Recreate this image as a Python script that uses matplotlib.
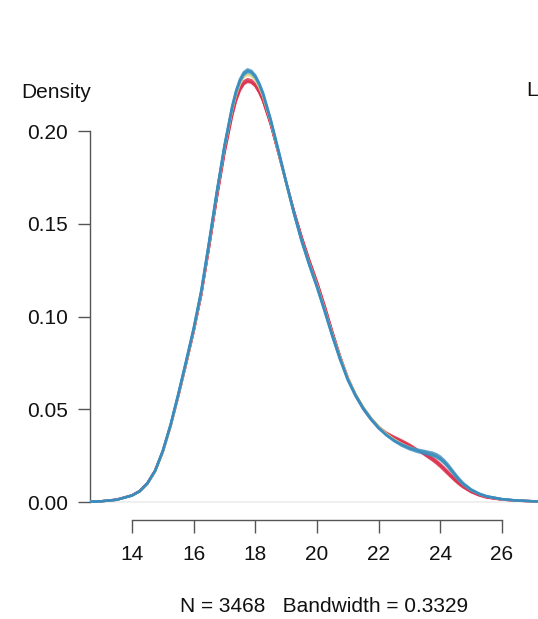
import matplotlib.pyplot as plt

plt.rcParams['font.family'] = ['Liberation Sans', 'DejaVu Sans']

# x grid the densities were read at
xs = [12.6, 13.0, 13.5, 14.0, 14.25, 14.5, 14.75, 15.0, 15.25, 15.5, 15.75, 16.0, 16.25, 16.5,
      16.75, 17.0, 17.25, 17.375, 17.5, 17.625, 17.75, 17.875, 18.0, 18.125, 18.25, 18.5, 18.75,
      19.0, 19.25, 19.5, 19.75, 20.0, 20.25, 20.5, 20.75, 21.0, 21.25, 21.5, 21.75, 22.0, 22.25,
      22.5, 22.75, 23.0, 23.25, 23.5, 23.75, 23.875, 24.0, 24.125, 24.25, 24.375, 24.5, 24.625,
      24.75, 25.0, 25.25, 25.5, 26.0, 26.5, 27.2]

red_lines = [
    [0.0001, 0.0004, 0.0013, 0.0036, 0.0059, 0.0101, 0.0168, 0.0272, 0.0408, 0.0568, 0.0740, 0.0918,
     0.1120, 0.1375, 0.1640, 0.1885, 0.2088, 0.2168, 0.2224, 0.2258, 0.2270, 0.2264, 0.2245, 0.2210,
     0.2163, 0.2035, 0.1880, 0.1722, 0.1568, 0.1428, 0.1302, 0.1185, 0.1055, 0.0915, 0.0783, 0.0668,
     0.0578, 0.0505, 0.0448, 0.0402, 0.0370,
     0.0348, 0.0327, 0.0305, 0.0281, 0.0257, 0.0230, 0.0215, 0.0197, 0.0177, 0.0156, 0.0135, 0.0115,
     0.0097, 0.0081, 0.0055, 0.0037, 0.0025, 0.0013, 0.0007, 0.0003],
    [0.0001, 0.0004, 0.0012, 0.0035, 0.0058, 0.0100, 0.0167, 0.0271, 0.0409, 0.0571, 0.0744, 0.0922,
     0.1125, 0.1382, 0.1648, 0.1894, 0.2098, 0.2178, 0.2235, 0.2268, 0.2280, 0.2274, 0.2254, 0.2218,
     0.2170, 0.2040, 0.1884, 0.1724, 0.1566, 0.1424, 0.1296, 0.1178, 0.1048, 0.0910, 0.0780, 0.0666,
     0.0576, 0.0503, 0.0446, 0.0400, 0.0366,
     0.0344, 0.0322, 0.0300, 0.0280, 0.0261, 0.0238, 0.0223, 0.0205, 0.0185, 0.0164, 0.0142, 0.0121,
     0.0102, 0.0085, 0.0058, 0.0039, 0.0026, 0.0014, 0.0007, 0.0003],
    [0.0001, 0.0004, 0.0013, 0.0036, 0.0060, 0.0103, 0.0170, 0.0275, 0.0412, 0.0572, 0.0743, 0.0920,
     0.1120, 0.1372, 0.1636, 0.1880, 0.2082, 0.2162, 0.2218, 0.2252, 0.2265, 0.2260, 0.2242, 0.2208,
     0.2162, 0.2036, 0.1882, 0.1725, 0.1572, 0.1432, 0.1305, 0.1188, 0.1058, 0.0918, 0.0786, 0.0670,
     0.0580, 0.0508, 0.0452, 0.0406, 0.0374,
     0.0352, 0.0332, 0.0310, 0.0283, 0.0253, 0.0224, 0.0208, 0.0190, 0.0170, 0.0150, 0.0130, 0.0111,
     0.0093, 0.0078, 0.0053, 0.0036, 0.0024, 0.0013, 0.0007, 0.0003],
]

yellow_lines = [
    [0.0001, 0.0004, 0.0012, 0.0034, 0.0056, 0.0097, 0.0163, 0.0268, 0.0406, 0.0570, 0.0745, 0.0925,
     0.1130, 0.1390, 0.1660, 0.1908, 0.2115, 0.2195, 0.2254, 0.2290, 0.2302, 0.2296, 0.2275, 0.2237,
     0.2187, 0.2050, 0.1888, 0.1722, 0.1560, 0.1415, 0.1288, 0.1170, 0.1040, 0.0905, 0.0780, 0.0670,
     0.0583, 0.0513, 0.0455, 0.0408, 0.0368,
     0.0338, 0.0314, 0.0295, 0.0281, 0.0271, 0.0259, 0.0249, 0.0235, 0.0216, 0.0193, 0.0167, 0.0140,
     0.0116, 0.0095, 0.0064, 0.0044, 0.0030, 0.0015, 0.0008, 0.0003],
]

green_lines = [
    [0.0001, 0.0004, 0.0012, 0.0035, 0.0057, 0.0099, 0.0166, 0.0272, 0.0411, 0.0575, 0.0750, 0.0930,
     0.1136, 0.1396, 0.1666, 0.1915, 0.2122, 0.2203, 0.2262, 0.2299, 0.2312, 0.2305, 0.2283, 0.2244,
     0.2192, 0.2052, 0.1888, 0.1719, 0.1555, 0.1408, 0.1280, 0.1162, 0.1033, 0.0898, 0.0773, 0.0664,
     0.0578, 0.0508, 0.0450, 0.0403, 0.0364,
     0.0334, 0.0310, 0.0291, 0.0278, 0.0267, 0.0256, 0.0246, 0.0233, 0.0214, 0.0191, 0.0165, 0.0138,
     0.0115, 0.0094, 0.0064, 0.0044, 0.0030, 0.0015, 0.0008, 0.0003],
]

blue_lines = [
    [0.0001, 0.0004, 0.0012, 0.0035, 0.0058, 0.0100, 0.0168, 0.0275, 0.0415, 0.0580, 0.0755, 0.0935,
     0.1140, 0.1400, 0.1670, 0.1920, 0.2130, 0.2212, 0.2272, 0.2310, 0.2325, 0.2318, 0.2295, 0.2255,
     0.2203, 0.2060, 0.1895, 0.1725, 0.1560, 0.1410, 0.1280, 0.1160, 0.1030, 0.0895, 0.0770, 0.0660,
     0.0575, 0.0505, 0.0448, 0.0400, 0.0362,
     0.0332, 0.0308, 0.0290, 0.0277, 0.0267, 0.0256, 0.0247, 0.0234, 0.0216, 0.0194, 0.0168, 0.0142,
     0.0118, 0.0097, 0.0066, 0.0045, 0.0031, 0.0016, 0.0008, 0.0003],
    [0.0001, 0.0004, 0.0012, 0.0034, 0.0057, 0.0099, 0.0166, 0.0272, 0.0411, 0.0576, 0.0750, 0.0930,
     0.1135, 0.1395, 0.1665, 0.1915, 0.2125, 0.2207, 0.2267, 0.2304, 0.2320, 0.2314, 0.2291, 0.2251,
     0.2198, 0.2055, 0.1890, 0.1720, 0.1555, 0.1405, 0.1275, 0.1155, 0.1025, 0.0890, 0.0765, 0.0655,
     0.0570, 0.0500, 0.0444, 0.0396, 0.0360,
     0.0332, 0.0311, 0.0294, 0.0283, 0.0275, 0.0266, 0.0258, 0.0245, 0.0226, 0.0203, 0.0176, 0.0149,
     0.0124, 0.0102, 0.0069, 0.0047, 0.0032, 0.0016, 0.0008, 0.0003],
    [0.0001, 0.0004, 0.0012, 0.0036, 0.0059, 0.0102, 0.0171, 0.0279, 0.0420, 0.0585, 0.0760, 0.0940,
     0.1146, 0.1406, 0.1676, 0.1927, 0.2138, 0.2220, 0.2280, 0.2318, 0.2333, 0.2325, 0.2301, 0.2260,
     0.2208, 0.2065, 0.1900, 0.1730, 0.1565, 0.1415, 0.1285, 0.1165, 0.1035, 0.0900, 0.0775, 0.0662,
     0.0578, 0.0508, 0.0450, 0.0402, 0.0360,
     0.0328, 0.0303, 0.0284, 0.0270, 0.0260, 0.0249, 0.0240, 0.0227, 0.0209, 0.0187, 0.0162, 0.0136,
     0.0113, 0.0093, 0.0063, 0.0043, 0.0029, 0.0015, 0.0008, 0.0003],
]

x_ticks = [14, 16, 18, 20, 22, 24, 26]
y_ticks = [0.00, 0.05, 0.10, 0.15, 0.20]
y_ticklabels = ['0.00', '0.05', '0.10', '0.15', '0.20']

W, H = 538, 619
fig = plt.figure(figsize=(W / 100, H / 100), dpi=100)
# axes: left spine at x=90px, x axis line at y=520px, top at y=60px
ax = fig.add_axes([90 / W, (H - 520) / H, (W - 90) / W, (520 - 60) / H])
ax.set_xlim(12.638, 27.169)
ax.set_ylim(-0.0097, 0.2383)

ax.axhline(0, color='#ececec', lw=1.2, zorder=1)

for ys in red_lines:
    ax.plot(xs, ys, color='#dc3250', lw=1.7, alpha=0.85, zorder=2)
for ys in yellow_lines:
    ax.plot(xs, ys, color='#ead98a', lw=1.7, alpha=0.9, zorder=3)
for ys in green_lines:
    ax.plot(xs, ys, color='#9cc79a', lw=1.7, alpha=0.8, zorder=3)
for ys in blue_lines:
    ax.plot(xs, ys, color='#3a8cc0', lw=1.7, alpha=0.8, zorder=4)

for s in ['top', 'right']:
    ax.spines[s].set_visible(False)
ax.spines['left'].set_bounds(0, 0.20)
ax.spines['bottom'].set_bounds(14, 26)
for s in ['left', 'bottom']:
    ax.spines[s].set_color('#555555')
    ax.spines[s].set_linewidth(1.0)

ax.set_xticks(x_ticks)
ax.set_xticklabels([str(t) for t in x_ticks])
ax.set_yticks(y_ticks)
ax.set_yticklabels(y_ticklabels)
ax.tick_params(axis='both', length=9, width=1.0, color='#555555', labelsize=15, labelcolor='#111111')
ax.tick_params(axis='y', pad=7)
ax.tick_params(axis='x', pad=9)

fig.text(56 / W, 1 - 92 / H, 'Density', fontsize=15, ha='center', va='center', color='#111111')
fig.text(526 / W, 1 - 91 / H, 'L', fontsize=15, ha='left', va='center', color='#111111')
fig.text(324 / W, 1 - 606 / H, 'N = 3468   Bandwidth = 0.3329', fontsize=15,
         ha='center', va='center', color='#111111')

fig.savefig('out.png', dpi=100)
